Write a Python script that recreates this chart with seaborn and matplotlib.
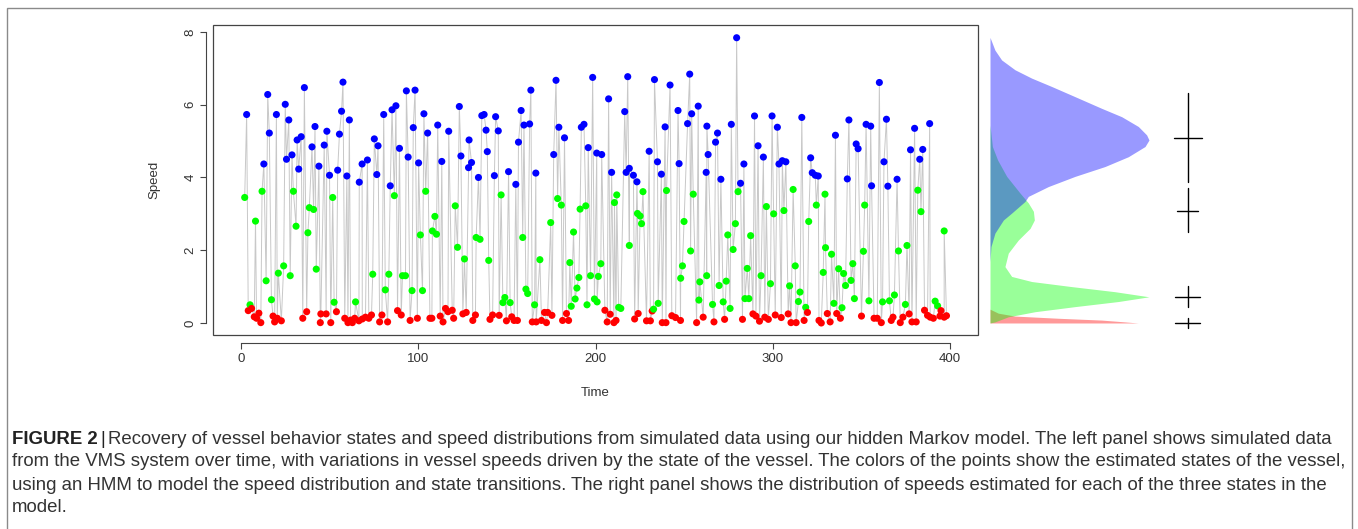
import numpy as np
import pandas as pd
import seaborn as sns
import matplotlib.pyplot as plt
from matplotlib.patches import Rectangle

# points, (time, speed), grouped by estimated state
blue_points = [
    (3.0, 5.73), (12.7, 4.37), (14.9, 6.28), (15.8, 5.22), (19.8, 5.73), (24.8, 6.01), (25.5, 4.5),
    (26.8, 5.58), (28.6, 4.62), (31.5, 5.03), (32.4, 4.23), (33.8, 5.12), (35.6, 6.47), (39.9, 4.84),
    (41.6, 5.4), (43.8, 4.31), (46.8, 4.89), (48.3, 5.27), (49.8, 4.06), (54.4, 4.2), (55.4, 5.19),
    (56.6, 5.82), (57.4, 6.62), (59.6, 4.04), (61.0, 5.58), (66.6, 3.87), (68.2, 4.37), (71.2, 4.48),
    (75.1, 5.06), (76.5, 4.08), (77.2, 4.87), (80.4, 5.73), (84.1, 3.77), (85.1, 5.86), (87.3, 5.97),
    (89.3, 4.8), (93.2, 6.38), (94.2, 4.56), (97.1, 5.37), (98.1, 6.4), (100.1, 4.4), (103.1, 5.75),
    (105.2, 5.22), (110.9, 5.44), (113.2, 4.44), (117.1, 5.27), (123.1, 5.95), (124.0, 4.59),
    (128.3, 4.27), (128.6, 5.03), (130.0, 4.41), (133.9, 4.0), (135.8, 5.7), (137.1, 5.73),
    (138.2, 5.3), (138.9, 4.71), (142.9, 4.05), (143.6, 5.67), (145.1, 5.28), (150.9, 4.16),
    (155.0, 3.81), (156.5, 4.97), (158.0, 5.84), (159.6, 5.44), (162.8, 5.47), (163.5, 6.4),
    (166.3, 4.12), (176.4, 4.63), (177.7, 6.67), (179.3, 5.38), (182.5, 5.09), (192.0, 5.38),
    (193.5, 5.46), (195.9, 4.82), (198.4, 6.75), (200.7, 4.67), (203.5, 4.63), (207.4, 6.16),
    (209.1, 4.14), (216.5, 5.81), (217.3, 4.14), (218.2, 6.77), (219.1, 4.25), (221.4, 4.06),
    (223.4, 3.88), (230.3, 4.72), (233.3, 6.69), (235.0, 4.43), (237.2, 4.09), (239.3, 5.39),
    (242.1, 6.54), (246.6, 5.84), (247.2, 4.38), (252.0, 5.48), (253.2, 6.84), (254.3, 5.75),
    (258.0, 5.96), (262.5, 4.14), (262.9, 5.41), (263.6, 4.63), (267.8, 4.97), (268.9, 5.22),
    (270.8, 3.95), (276.7, 5.46), (279.7, 7.84), (281.9, 3.84), (283.8, 4.37), (289.8, 5.69),
    (291.8, 4.87), (294.8, 4.56), (299.7, 5.69), (302.7, 5.38), (303.6, 4.37), (305.5, 4.46),
    (307.5, 4.43), (316.5, 5.65), (321.5, 4.54), (322.4, 4.13), (324.1, 4.06), (325.8, 4.04),
    (335.5, 5.16), (342.2, 3.96), (343.1, 5.58), (347.2, 4.92), (348.3, 4.79), (352.8, 5.46),
    (355.4, 5.41), (355.9, 3.77), (360.3, 6.61), (362.9, 4.43), (364.3, 5.6), (365.1, 3.76),
    (370.3, 3.95), (377.9, 4.76), (380.2, 5.35), (383.1, 4.5), (384.8, 4.77), (388.7, 5.48),
]
green_points = [
    (1.9, 3.45), (4.9, 0.5), (8.0, 2.8), (11.7, 3.62), (14.0, 1.16), (17.0, 0.64), (20.9, 1.37),
    (23.9, 1.57), (27.6, 1.3), (29.4, 3.62), (30.9, 2.66), (37.6, 2.48), (38.4, 3.17), (40.8, 3.12),
    (42.3, 1.48), (51.6, 3.45), (52.4, 0.57), (64.5, 0.58), (74.2, 1.34), (81.3, 0.91), (83.3, 1.34),
    (86.4, 3.5), (91.0, 1.3), (92.7, 1.3), (96.4, 0.89), (101.1, 2.42), (102.3, 0.89), (104.1, 3.62),
    (107.9, 2.53), (109.3, 2.93), (110.2, 2.44), (120.8, 3.22), (122.1, 2.08), (126.0, 1.76),
    (132.6, 2.35), (134.8, 2.3), (139.7, 1.72), (146.7, 3.52), (147.7, 0.56), (148.8, 0.7),
    (151.8, 0.56), (158.9, 2.35), (160.7, 0.93), (161.7, 0.81), (165.6, 0.5), (168.6, 1.74),
    (174.7, 2.76), (178.6, 3.42), (180.7, 3.24), (185.5, 1.66), (186.3, 0.46), (187.6, 2.5),
    (188.5, 0.66), (189.5, 0.96), (190.6, 1.25), (191.3, 3.13), (194.5, 3.22), (195.2, 0.5),
    (197.2, 1.3), (199.4, 0.66), (200.9, 0.58), (201.6, 1.28), (203.0, 1.63), (210.7, 3.31),
    (212.0, 3.52), (213.1, 0.43), (214.3, 0.4), (219.1, 2.13), (223.7, 3.01), (225.2, 2.94),
    (226.0, 2.73), (226.8, 3.61), (232.8, 0.38), (235.4, 0.54), (240.1, 3.64), (248.1, 1.23),
    (249.1, 1.57), (250.0, 2.79), (253.7, 1.98), (255.2, 3.54), (258.4, 0.63), (258.9, 1.13),
    (262.8, 1.3), (266.1, 0.51), (269.8, 1.03), (272.1, 0.58), (273.8, 1.15), (274.7, 2.42),
    (276.0, 0.4), (277.7, 2.02), (279.0, 2.73), (280.5, 3.61), (284.4, 0.67), (285.7, 1.5),
    (286.6, 0.67), (287.6, 2.4), (293.5, 1.3), (296.5, 3.2), (298.8, 1.08), (300.6, 3.0),
    (306.4, 3.09), (309.6, 1.02), (311.6, 3.67), (312.8, 1.57), (314.6, 0.59), (315.5, 0.85),
    (318.7, 0.43), (320.4, 2.79), (324.7, 3.24), (328.6, 1.39), (329.6, 3.54), (329.9, 2.07),
    (333.3, 1.89), (334.6, 0.54), (337.3, 1.49), (339.2, 0.42), (340.1, 1.36), (341.2, 1.03),
    (344.3, 1.17), (345.3, 1.63), (346.2, 0.67), (351.3, 1.97), (352.0, 3.24), (354.4, 0.61),
    (362.1, 0.58), (366.0, 0.61), (368.8, 0.77), (371.1, 1.98), (375.0, 0.51), (375.9, 2.13),
    (382.0, 3.65), (383.8, 3.06), (391.8, 0.6), (393.2, 0.47), (396.9, 2.53),
]
red_points = [
    (3.9, 0.34), (5.8, 0.4), (7.3, 0.17), (8.6, 0.13), (9.9, 0.27), (11.0, 0.01), (17.9, 0.19),
    (18.8, 0.03), (20.3, 0.13), (22.6, 0.06), (34.7, 0.13), (36.9, 0.31), (44.6, 0.01), (44.9, 0.25),
    (47.9, 0.25), (50.5, 0.01), (53.7, 0.31), (58.4, 0.13), (60.2, 0.01), (61.7, 0.08), (62.7, 0.01),
    (64.0, 0.13), (66.4, 0.06), (68.3, 0.11), (70.1, 0.16), (72.0, 0.13), (73.5, 0.22), (78.1, 0.03),
    (79.4, 0.22), (82.6, 0.03), (88.2, 0.34), (90.3, 0.22), (95.3, 0.07), (99.4, 0.13), (106.5, 0.13),
    (107.6, 0.13), (112.3, 0.19), (113.9, 0.03), (115.3, 0.4), (116.7, 0.31), (119.1, 0.35),
    (119.9, 0.13), (125.1, 0.25), (127.0, 0.29), (130.7, 0.07), (132.2, 0.22), (140.4, 0.1),
    (141.9, 0.22), (145.6, 0.21), (149.7, 0.06), (152.7, 0.17), (154.0, 0.07), (155.9, 0.07),
    (164.3, 0.03), (166.5, 0.03), (169.5, 0.07), (171.2, 0.29), (172.3, 0.01), (173.0, 0.29),
    (175.4, 0.21), (181.4, 0.07), (183.6, 0.26), (184.8, 0.07), (205.3, 0.35), (206.6, 0.03),
    (208.3, 0.24), (210.4, 0.01), (211.6, 0.07), (222.1, 0.11), (224.1, 0.26), (228.8, 0.06),
    (231.0, 0.06), (232.0, 0.33), (237.7, 0.01), (239.8, 0.01), (243.1, 0.2), (245.2, 0.15),
    (248.0, 0.07), (257.1, 0.01), (260.8, 0.16), (266.9, 0.03), (272.9, 0.1), (283.0, 0.1),
    (288.9, 0.25), (290.6, 0.19), (292.6, 0.05), (295.6, 0.16), (297.6, 0.1), (301.5, 0.22),
    (304.9, 0.15), (308.8, 0.25), (310.4, 0.01), (313.3, 0.01), (317.8, 0.07), (319.7, 0.29),
    (326.2, 0.07), (327.5, 0.0), (330.9, 0.26), (332.5, 0.03), (336.2, 0.26), (338.3, 0.13),
    (350.2, 0.19), (357.3, 0.13), (359.1, 0.13), (361.4, 0.01), (367.0, 0.07), (368.0, 0.16),
    (372.1, 0.01), (373.6, 0.16), (377.1, 0.25), (378.7, 0.03), (381.1, 0.03), (385.8, 0.35),
    (387.5, 0.21), (389.0, 0.16), (390.8, 0.13), (394.5, 0.19), (395.1, 0.34), (396.9, 0.16),
    (398.2, 0.2),
]

# estimated speed densities (right panel), relative to the tallest peak
blue_dens_speed = [7.85, 7.5, 7.23, 6.96, 6.73, 6.5, 6.22, 5.9, 5.67, 5.4, 5.17, 5.03, 4.85, 4.57,
                   4.3, 4.03, 3.75, 3.48, 3.34, 3.02, 2.83, 2.47, 2.1, 1.69]
blue_dens = [0, .031, .073, .157, .262, .388, .535, .702, .828, .933, .985, 1.0, .975, .870,
             .723, .535, .367, .241, .220, .136, .084, .031, .006, 0]
green_dens_speed = [5.44, 4.85, 4.48, 4.03, 3.57, 3.3, 3.07, 2.83, 2.6, 2.28, 1.92, 1.55, 1.28,
                    1.14, 1.0, 0.86, 0.72, 0.59, 0.45, 0.31, 0.17, 0.03, 0.0]
green_dens = [0, .015, .048, .105, .189, .241, .273, .279, .252, .178, .115, .094, .136,
              .262, .514, .786, 1.0, .807, .535, .283, .115, .031, 0]
red_dens_speed = [0.38, 0.27, 0.19, 0.13, 0.08, 0.03, 0.0]
red_dens = [0, .052, .157, .430, .702, .849, .933]

# state summaries drawn as crosses: centre and vertical extent
cross_mid = [5.09, 3.09, 0.72, 0.01]
cross_low = [3.87, 2.50, 0.43, -0.15]
cross_high = [6.33, 3.70, 1.02, 0.15]

caption_lines = [
    "Recovery of vessel behavior states and speed distributions from simulated data using our hidden Markov model. The left panel shows simulated data",
    "from the VMS system over time, with variations in vessel speeds driven by the state of the vessel. The colors of the points show the estimated states of the vessel,",
    "using an HMM to model the speed distribution and state transitions. The right panel shows the distribution of speeds estimated for each of the three states in the",
    "model.",
]

sns.set_style("white")
plt.rcParams['font.family'] = ['Liberation Sans Narrow', 'Liberation Sans', 'DejaVu Sans']

W, H = 1358, 529
fig = plt.figure(figsize=(W / 100, H / 100), dpi=100)

rows = ([(t, s, 'blue') for t, s in blue_points]
        + [(t, s, 'green') for t, s in green_points]
        + [(t, s, 'red') for t, s in red_points])
df = pd.DataFrame(rows, columns=['Time', 'Speed', 'State']).sort_values('Time')

ax = fig.add_axes([213 / W, 1 - 335 / H, 765 / W, 310 / H])
sns.lineplot(data=df, x='Time', y='Speed', estimator=None, sort=True,
             color='#c8c8c8', lw=0.7, ax=ax)
sns.scatterplot(data=df, x='Time', y='Speed', hue='State',
                palette={'blue': 'blue', 'green': 'lime', 'red': 'red'},
                s=26, linewidth=0, legend=False, ax=ax, zorder=3)

ax.set_xlim(-16, 416)
ax.set_ylim(-0.33, 8.19)
ax.add_patch(Rectangle((0, 0), 1, 1, transform=ax.transAxes, fill=False,
                       ec='#444444', lw=0.9, clip_on=False))
for side in ['top', 'right']:
    ax.spines[side].set_visible(False)
ax.spines['left'].set_position(('outward', 5))
ax.spines['bottom'].set_position(('outward', 6))
ax.spines['left'].set_bounds(0, 8)
ax.spines['bottom'].set_bounds(0, 400)
for side in ['left', 'bottom']:
    ax.spines[side].set_color('#444444')
    ax.spines[side].set_linewidth(0.8)
ax.set_xticks([0, 100, 200, 300, 400])
ax.set_yticks([0, 2, 4, 6, 8])
ax.tick_params(axis='both', length=4, width=0.8, color='#444444',
               labelsize=9.5, labelcolor='#333333', pad=3, left=True, bottom=True)
for lbl in ax.get_yticklabels():
    lbl.set_rotation(90)
    lbl.set_va('center')
ax.set_xlabel('Time', fontsize=9.5, color='#333333')
ax.set_ylabel('Speed', fontsize=9.5, color='#333333')
ax.xaxis.set_label_coords(0.5, -0.168)
ax.yaxis.set_label_coords(-0.069, 0.5)

# right panel: densities and crosses
ax2 = fig.add_axes([990 / W, 1 - 335 / H, 250 / W, 310 / H])
ax2.fill_betweenx(red_dens_speed, 0, red_dens, color='red', alpha=0.4, lw=0)
ax2.fill_betweenx(green_dens_speed, 0, green_dens, color='lime', alpha=0.4, lw=0)
ax2.fill_betweenx(blue_dens_speed, 0, blue_dens, color='blue', alpha=0.4, lw=0)
cross_x = 1.243
half_w = [0.088, 0.066, 0.078, 0.078]
for m, lo, hi, hw in zip(cross_mid, cross_low, cross_high, half_w):
    ax2.plot([cross_x, cross_x], [lo, hi], color='black', lw=1)
    ax2.plot([cross_x - hw, cross_x + hw], [m, m], color='black', lw=1)
ax2.set_xlim(0, 250 / 159)
ax2.set_ylim(-0.33, 8.19)
ax2.axis('off')

# figure frame and caption
fig.add_artist(Rectangle((7 / W, -0.01), 1345 / W, 1 - 8 / H + 0.01,
                         transform=fig.transFigure, fill=False, ec='#8a8a8a', lw=1))
cap_font = ['Liberation Sans', 'DejaVu Sans']
cap_size = 13.4
fig.canvas.draw()
r = fig.canvas.get_renderer()
line_y = [439, 462, 485, 508]
head = fig.text(12 / W, 1 - line_y[0] / H, "FIGURE 2", fontsize=cap_size, weight='bold',
                family=cap_font, va='center', color='#222222')
bb = head.get_window_extent(r)
bar = fig.text((bb.x1 + 3) / W, 1 - line_y[0] / H, "|", fontsize=cap_size,
               family=cap_font, va='center', color='#222222')
bb = bar.get_window_extent(r)
for i, txt in enumerate(caption_lines):
    x0 = (bb.x1 + 3) / W if i == 0 else 12 / W
    fig.text(x0, 1 - line_y[i] / H, txt, fontsize=cap_size, family=cap_font,
             va='center', color='#333333')

fig.savefig('out.png', dpi=100)
